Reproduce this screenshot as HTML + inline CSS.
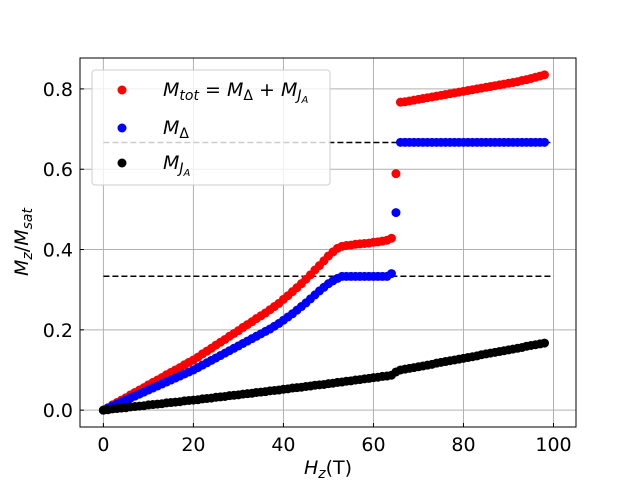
<!DOCTYPE html>
<html><head><meta charset="utf-8"><style>
html,body{margin:0;padding:0;background:#fff;}
svg{display:block;font-family:"DejaVu Sans","Liberation Sans",sans-serif;}
</style></head><body>
<svg id="chart" width="640" height="480" viewBox="0 0 640 480" xmlns="http://www.w3.org/2000/svg">
<rect width="640" height="480" fill="#fff"/>
<g id="grid"></g>
<g id="refs"></g>
<g id="marks"></g>
<rect x="80" y="58" width="496" height="369" fill="none" stroke="#000" stroke-width="1"/>
<g id="ticks"></g>
<g>
<rect x="92" y="70" width="238" height="115" rx="3" fill="#fff" fill-opacity="0.8" stroke="#ccc"/>
<circle cx="122" cy="90" r="4.5" fill="#f00"/>
<circle cx="122" cy="128" r="4.5" fill="#00f"/>
<circle cx="122" cy="163" r="4.5" fill="#000"/>
<text x="163" y="96" font-size="19"><tspan font-style="italic">M</tspan><tspan font-size="14" dy="4" font-style="italic">tot</tspan><tspan dy="-4"> = </tspan><tspan font-style="italic">M</tspan><tspan font-size="14" dy="4">Δ</tspan><tspan dy="-4"> + </tspan><tspan font-style="italic">M</tspan><tspan font-size="14" dy="4" font-style="italic">J</tspan><tspan font-size="10" dy="3" font-style="italic">A</tspan></text>
<text x="163" y="134" font-size="19"><tspan font-style="italic">M</tspan><tspan font-size="14" dy="4">Δ</tspan></text>
<text x="163" y="169" font-size="19"><tspan font-style="italic">M</tspan><tspan font-size="14" dy="4" font-style="italic">J</tspan><tspan font-size="10" dy="3" font-style="italic">A</tspan></text>
</g>
<text x="328" y="474" font-size="19" text-anchor="middle"><tspan font-style="italic">H</tspan><tspan font-size="14" dy="4" font-style="italic">z</tspan><tspan dy="-4">(T)</tspan></text>
<text transform="translate(28,242) rotate(-90)" font-size="19" text-anchor="middle"><tspan font-style="italic">M</tspan><tspan font-size="14" dy="4" font-style="italic">z</tspan><tspan dy="-4">/</tspan><tspan font-style="italic">M</tspan><tspan font-size="14" dy="4" font-style="italic">sat</tspan></text>
</svg>
<script>
const xTicks=[0,20,40,60,80,100];
const yTicks=[0.0,0.2,0.4,0.6,0.8];
const yTickLabels=["0.0","0.2","0.4","0.6","0.8"];
const refLevels=[1/3,2/3];
const H=[];for(let i=0;i<=98;i++)H.push(i);
const mDelta=[0,.005,.010,.015,.020,.025,.030,.035,.040,.045,.050,.055,.060,.065,.070,.075,.080,.085,.090,.095,.100,.106,.112,.118,.124,.130,.136,.142,.148,.154,.160,.166,.172,.178,.184,.190,.196,.202,.209,.216,.224,.232,.240,.249,.258,.267,.277,.287,.297,.306,.315,.322,.328,.333,
.333,.333,.333,.333,.333,.333,.333,.333,.333,.333,.340,.492,
.667,.667,.667,.667,.667,.667,.667,.667,.667,.667,.667,.667,.667,.667,.667,.667,.667,.667,.667,.667,.667,.667,.667,.667,.667,.667,.667,.667,.667,.667,.667,.667,.667];
const mJA=[0,.001,.003,.004,.005,.006,.008,.009,.010,.011,.013,.014,.015,.016,.018,.019,.020,.021,.023,.024,.025,.026,.028,.029,.030,.032,.033,.034,.036,.037,.038,.040,.041,.042,.044,.045,.046,.048,.049,.050,.052,.053,.055,.056,.057,.059,.060,.062,.063,.064,.066,.067,.069,.070,.072,.073,.075,.076,.078,.079,.081,.082,.084,.085,.087,.095,.100,
.102,.104,.106,.108,.110,.112,.114,.117,.119,.121,.123,.125,.127,.129,.131,.133,.135,.138,.140,.142,.144,.146,.148,.150,.152,.154,.156,.159,.161,.163,.165,.167];
const mTot=[0,.006,.013,.019,.025,.031,.038,.044,.050,.056,.063,.069,.075,.081,.088,.094,.100,.106,.113,.119,.125,.132,.140,.147,.154,.162,.169,.176,.184,.191,.198,.206,.213,.220,.228,.235,.242,.250,.258,.266,.276,.285,.295,.305,.315,.326,.337,.349,.360,.372,.384,.394,.403,.408,
.410,.411,.413,.414,.415,.416,.418,.419,.421,.423,.428,.589,
.767,.768,.770,.772,.774,.776,.778,.780,.782,.784,.786,.788,.790,.792,.794,.796,.798,.800,.802,.804,.806,.808,.810,.812,.814,.816,.818,.821,.823,.826,.829,.832,.835];
const NS="http://www.w3.org/2000/svg";
const X0=80,X1=576,Y0=427,Y1=58;
const xMin=-5.2,xMax=105,yMin=-0.042,yMax=0.877;
const sx=v=>X0+(v-xMin)/(xMax-xMin)*(X1-X0);
const sy=v=>Y0-(v-yMin)/(yMax-yMin)*(Y0-Y1);
function mk(tag,parent,attrs){const e=document.createElementNS(NS,tag);for(const k in attrs)e.setAttribute(k,attrs[k]);parent.appendChild(e);return e;}
const grid=document.getElementById('grid'),ticks=document.getElementById('ticks'),refs=document.getElementById('refs'),marks=document.getElementById('marks');
xTicks.forEach(t=>{const x=sx(t);
 const g=mk('line',grid,{x1:x,x2:x,y1:Y1,y2:Y0,stroke:'#b0b0b0','stroke-width':1});
 
 
 const tk=mk('line',ticks,{x1:x,x2:x,y1:Y0,y2:Y0-4,stroke:'#000'});
 
 
 const tx=mk('text',ticks,{x:x,y:Y0+24,'font-size':19,'text-anchor':'middle'});
 tx.textContent=String(t);
 
 
});
yTicks.forEach((t,i)=>{const y=sy(t);
 const g=mk('line',grid,{x1:X0,x2:X1,y1:y,y2:y,stroke:'#b0b0b0','stroke-width':1});
 
 
 const tk=mk('line',ticks,{x1:X0,x2:X0+4,y1:y,y2:y,stroke:'#000'});
 
 
 const tx=mk('text',ticks,{x:X0-7,y:y+7,'font-size':19,'text-anchor':'end'});
 tx.textContent=yTickLabels[i];
 
 
});
refLevels.forEach(v=>{
 const l=mk('line',refs,{x1:sx(0),x2:sx(100),y1:sy(v),y2:sy(v),stroke:'#000','stroke-width':1.5,'stroke-dasharray':'6,3'});
 
 
});
function series(vals,color,name){
 const g=mk('g',marks,{});
 
 
 vals.forEach((v,i)=>{const c=mk('circle',g,{cx:sx(H[i]),cy:sy(v),r:4.5,fill:color});
  
  });
}
series(mTot,'#f00','series-total');
series(mDelta,'#00f','series-delta');
series(mJA,'#000','series-ja');
</script>
</body></html>
